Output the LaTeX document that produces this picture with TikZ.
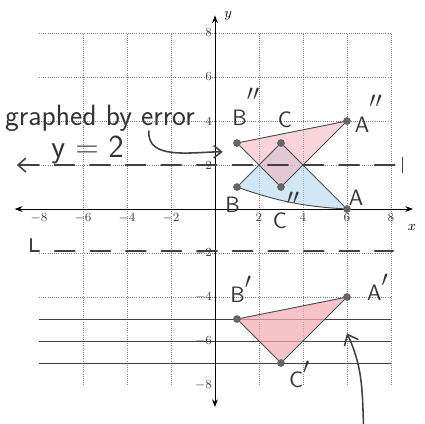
\documentclass[tikz,border=0pt]{standalone}
\usepackage{tikz}
\usetikzlibrary{arrows.meta, positioning, calc}
\usepackage{amsmath}
\definecolor{cPink}{RGB}{243,170,180}
\definecolor{cBlue}{RGB}{180,215,238}
\newcommand{\dpr}{\raisebox{1.1em}{$\prime\prime$}}
\newcommand{\spr}{\raisebox{0.6em}{$\prime$}}

\begin{document}
\begin{tikzpicture}[x=0.5cm, y=0.5cm,
    gd/.style={draw=black!50, densely dotted},
    ln/.style={draw=black!75, thin},
    ax/.style={draw=black, semithick, {Stealth[length=5pt]}-{Stealth[length=5pt]}},
    vx/.style={circle, fill=black!60, inner sep=0pt, minimum size=5pt},
    ed/.style={draw=black!70, semithick},
    tk/.style={font=\footnotesize, text=black!75, inner sep=1pt},
    lb/.style={font=\sffamily\Large, text=black!80, anchor=base west, inner sep=0pt},
    pen/.style={draw=black!75, line width=1pt, line cap=round},
    dsh/.style={pen, dash pattern=on 13pt off 10pt}]
  \useasboundingbox (-9.77,-9.77) rectangle (9.5,9.5);
  % grid and ruled lines
  \draw[gd] (-8,-8) grid (8,8);
  \foreach \yy in {-5,-6,-7}
    \draw[ln] (-8,\yy) -- (8,\yy);
  % axes
  \coordinate (xl) at (-9.1,0);
  \coordinate (xr) at (9,0);
  \coordinate (yb) at (0,-9);
  \coordinate (yt) at (0,8.8);
  \draw[ax] (xl) -- (xr);
  \draw[ax] (yb) -- (yt);
  \node[font=\small] (xlab) at (8.95,-0.85) {$x$};
  \node[font=\small] (ylab) at (0.6,8.8) {$y$};
  \foreach \t in {-8,-6,-4,-2,2,4,6,8} {
    \node[tk, anchor=north] (tx\t) at (\t,-0.1) {$\t$};
    \node[tk, anchor=east] (ty\t) at (-0.05,\t) {$\t$};
  }
  % vertices
  \coordinate (A) at (6,0);
  \coordinate (B) at (1,1);
  \coordinate (C) at (3,3);
  \coordinate (A2) at (6,4);
  \coordinate (B2) at (1,3);
  \coordinate (C2) at (3,1);
  \coordinate (A1) at (6,-4);
  \coordinate (B1) at (1,-5);
  \coordinate (C1) at (3,-7);
  % shading
  \fill[cBlue, opacity=0.6] (B) to[bend right=8] (A) -- (C) -- cycle;
  \fill[cPink, opacity=0.5] (B2) -- (A2) -- (C2) -- cycle;
  \fill[cPink, opacity=0.7] (B1) -- (A1) -- (C1) -- cycle;
  % sides
  \draw[ed] (B) to[bend right=8] (A);
  \draw[ed] (A) -- (C) -- (B);
  \draw[ed] (B2) -- (A2) -- (C2) -- (B2);
  \draw[ed] (B1) -- (A1) -- (C1) -- (B1);
  \foreach \p in {A,B,C,A2,B2,C2,A1,B1,C1}
    \node[vx] at (\p) {};
  % vertex labels
  \node[lb] (lA) at (6.07,0.18) {A};
  \node[lb] (lB) at (0.46,-0.18) {B};
  \node[lb] (lC) at (2.85,3.7) {C};
  \node[lb] (lA2) at (6.35,3.5) {A\dpr};
  \node[lb] (lB2) at (0.78,3.8) {B\dpr};
  \node[lb] (lC2) at (2.62,-0.9) {C\dpr};
  \node[lb] (lA1) at (6.9,-4.14) {A\spr};
  \node[lb] (lB1) at (0.69,-4.23) {B\spr};
  \node[lb] (lC1) at (3.36,-8.1) {C\spr};
  % notes
  \node[lb, font=\sffamily\fontsize{19pt}{22pt}\selectfont] (err) at (-9.55,3.8) {graphed by error};
  \node[lb, font=\sffamily\huge] (eq) at (-7.45,2.36) {y = 2};
  \coordinate (g0) at (-3,3.55);
  \coordinate (g1) at (0.35,2.6);
  \draw[pen, -{Straight Barb[length=5pt, width=8pt]}] (g0) to[out=-95, in=180] (g1);
  % the line y = 2
  \coordinate (m0) at (-9,2);
  \coordinate (m1) at (8.55,2);
  \draw[dsh, {Straight Barb[length=5pt, width=9pt]}-{Bar[width=10pt]}] (m0) -- (m1);
  % the line y = -2
  \coordinate (n0) at (-8.35,-1.35);
  \coordinate (n1) at (-8.35,-1.9);
  \coordinate (n2) at (8.1,-1.9);
  \draw[dsh] (n0) -- (n1) -- (n2);
  % arrow at the bottom
  \coordinate (q0) at (6.75,-9.77);
  \coordinate (q1) at (6.0,-5.65);
  \draw[pen, -{Straight Barb[length=6pt, width=10pt]}] (q0) to[out=92, in=-65] (q1);
\end{tikzpicture}
\end{document}
